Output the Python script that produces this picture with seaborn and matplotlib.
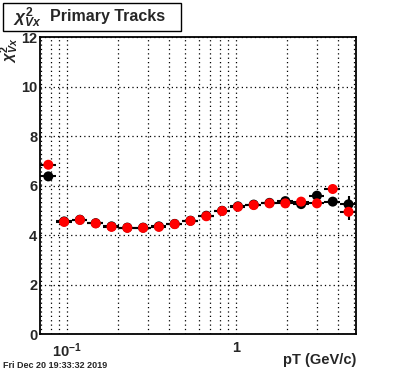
import numpy as np
import pandas as pd
import matplotlib
matplotlib.use("Agg")
import matplotlib.pyplot as plt
import seaborn as sns
from matplotlib.patches import Rectangle
from matplotlib.ticker import LogLocator, NullFormatter, MultipleLocator

# pT bin edges (GeV/c), log spaced
bin_edges = [0.0692, 0.0858, 0.1064, 0.1319, 0.1636, 0.2028, 0.2514, 0.3117,
             0.3865, 0.4793, 0.5943, 0.7369, 0.9137, 1.1329, 1.4044, 1.7418,
             2.1598, 2.6779, 3.3204, 4.1172, 5.1050]

# chi2 of Vx per bin, two samples (black / red)
chi2_black = [6.37, 4.55, 4.62, 4.48, 4.35, 4.30, 4.30, 4.35, 4.45, 4.58,
              4.78, 4.98, 5.16, 5.23, 5.30, 5.37, 5.25, 5.59, 5.35, 5.24]
chi2_red = [6.84, 4.53, 4.61, 4.47, 4.33, 4.29, 4.29, 4.33, 4.44, 4.57,
            4.76, 4.97, 5.14, 5.21, 5.28, 5.28, 5.35, 5.28, 5.86, 4.94]
err_black = [0.15, 0.04, 0.03, 0.03, 0.03, 0.03, 0.03, 0.03, 0.03, 0.03,
             0.03, 0.03, 0.03, 0.04, 0.05, 0.06, 0.07, 0.10, 0.15, 0.33]
err_red = [0.15, 0.04, 0.03, 0.03, 0.03, 0.03, 0.03, 0.03, 0.03, 0.03,
           0.03, 0.03, 0.03, 0.04, 0.05, 0.06, 0.07, 0.10, 0.17, 0.33]

edges = np.array(bin_edges)
pt = (edges[:-1] + edges[1:]) / 2
xerr = [pt - edges[:-1], edges[1:] - pt]

df = pd.concat([
    pd.DataFrame({"pt": pt, "chi2": chi2_black, "err": err_black, "set": "black"}),
    pd.DataFrame({"pt": pt, "chi2": chi2_red, "err": err_red, "set": "red"}),
], ignore_index=True)

sns.set_style("white")
plt.rcParams["font.family"] = ["Liberation Sans", "DejaVu Sans"]
plt.rcParams["font.weight"] = "bold"
plt.rcParams["mathtext.fontset"] = "custom"
plt.rcParams["mathtext.rm"] = "Liberation Sans:bold"
plt.rcParams["mathtext.bf"] = "Liberation Sans:bold"
plt.rcParams["mathtext.it"] = "Liberation Sans:italic:bold"

fig = plt.figure(figsize=(3.96, 3.72), dpi=100)
ax = fig.add_axes([0.101, 0.102, 0.798, 0.7985])

# error bars first, then markers on top (black under red)
for name in ["black", "red"]:
    sub = df[df["set"] == name]
    ax.errorbar(sub["pt"], sub["chi2"], xerr=xerr, yerr=sub["err"],
                fmt="none", ecolor="black", elinewidth=1.5, capsize=0, zorder=2)

sns.scatterplot(data=df, x="pt", y="chi2", hue="set",
                palette={"black": "black", "red": "red"},
                s=52, edgecolor="none", legend=False, ax=ax, zorder=3)

ax.set_xscale("log")
ax.set_xlim(0.0692, 5.105)
ax.set_ylim(0, 12)

ax.set_xticks([0.1, 1])
ax.set_xticklabels([r"$10^{-1}$", "1"])
ax.xaxis.set_minor_locator(LogLocator(base=10, subs=np.arange(2, 10)))
ax.xaxis.set_minor_formatter(NullFormatter())
ax.set_yticks([0, 2, 4, 6, 8, 10, 12])
ax.yaxis.set_minor_locator(MultipleLocator(0.4))

ax.tick_params(axis="both", which="major", direction="in", length=7, width=1,
               labelsize=10.5, top=False, right=False, color="black")
ax.tick_params(axis="both", which="minor", direction="in", length=3.5, width=1,
               top=False, right=False, color="black")
ax.tick_params(axis="x", which="major", pad=5)
ax.tick_params(axis="y", which="major", pad=2)
for lbl in ax.get_xticklabels() + ax.get_yticklabels():
    lbl.set_fontweight("bold")

ax.grid(True, axis="x", which="both", ls=(0, (1, 2.5)), color="black", lw=0.9)
ax.grid(True, axis="y", which="major", ls=(0, (1, 2.5)), color="black", lw=0.9)
ax.set_axisbelow(True)
for sp in ax.spines.values():
    sp.set_color("black")
    sp.set_linewidth(1.3)

ax.set_xlabel("")
ax.set_ylabel("")
ax.text(1.0, -0.065, "pT (GeV/c)", transform=ax.transAxes, ha="right", va="top",
        fontsize=10.5, fontweight="bold")
ax.text(-0.095, 1.0, r"$\chi^{2}_{Vx}$", transform=ax.transAxes, rotation=90,
        ha="center", va="top", fontsize=11)

# title box
fig.patches.append(Rectangle((0.0076, 0.917), 0.449, 0.0753, transform=fig.transFigure,
                             fill=False, edgecolor="black", lw=1.0))
fig.text(0.033, 0.952, r"$\chi^{2}_{Vx}$", ha="left", va="center", fontsize=12.5)
fig.text(0.126, 0.955, "Primary Tracks", ha="left", va="center",
         fontsize=11.5, fontweight="bold")

fig.text(0.008, 0.018, "Fri Dec 20 19:33:32 2019", ha="left", va="center",
         fontsize=6.5, fontweight="bold")

fig.savefig("out.png", dpi=100)
